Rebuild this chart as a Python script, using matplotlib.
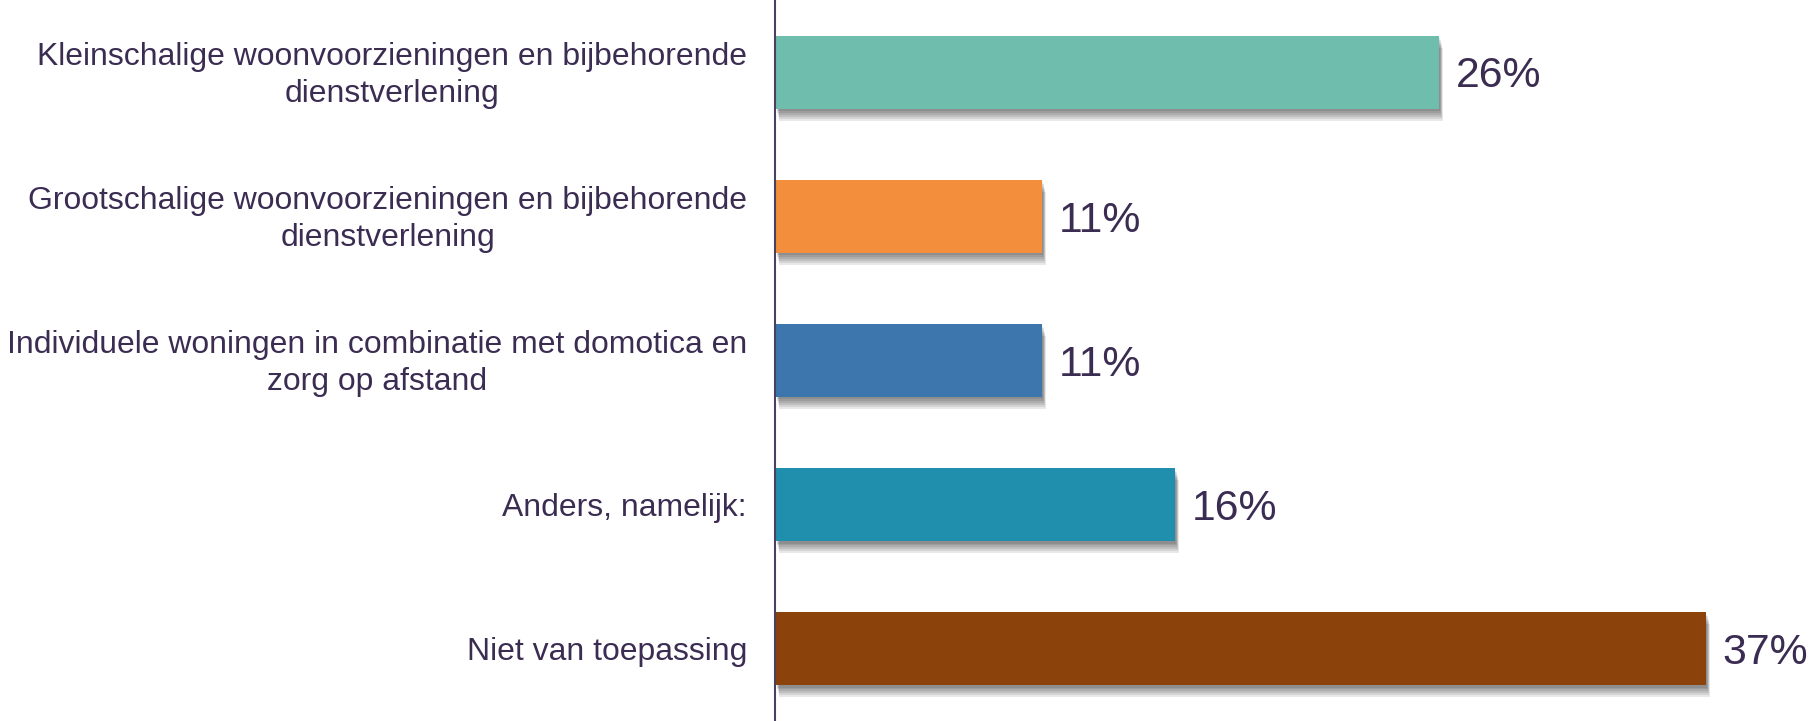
import matplotlib
matplotlib.use("Agg")
import matplotlib.pyplot as plt
import matplotlib.patheffects as pe

categories = [
    "Kleinschalige woonvoorzieningen en bijbehorende\ndienstverlening",
    "Grootschalige woonvoorzieningen en bijbehorende\ndienstverlening",
    "Individuele woningen in combinatie met domotica en\nzorg op afstand",
    "Anders, namelijk:",
    "Niet van toepassing",
]
values = [26.4, 10.6, 10.6, 15.9, 37.0]
value_labels = ["26%", "11%", "11%", "16%", "37%"]
colors = ["#6fbdad", "#f28e3c", "#3c76ad", "#1f8fad", "#8b420b"]

text_color = "#3b2c52"
plt.rcParams["font.family"] = ["Liberation Sans", "DejaVu Sans"]

W, H, DPI = 1811, 721, 100
PT = 72.0 / DPI  # points per pixel
fig = plt.figure(figsize=(W / DPI, H / DPI), dpi=DPI)
ax = fig.add_axes([775 / W, 0, 1 - 775 / W, 1])

y = list(range(len(categories)))
bars = ax.barh(y, values, height=0.505, color=colors, zorder=3)
shadow = []
for k, (dx, dy) in enumerate([(4, 12), (3.5, 10), (3, 8), (2.5, 6), (2, 4), (1.5, 2.5)]):
    shadow.append(pe.SimplePatchShadow(offset=(dx * PT, -dy * PT),
                                       shadow_rgbFace="k", alpha=0.09))
for b in bars:
    b.set_path_effects(shadow + [pe.Normal()])

ax.set_xlim(0, (W - 775) / 25.15)
ax.set_ylim(len(categories) - 0.5, -0.5)

for yi, v, lab in zip(y, values, value_labels):
    ax.annotate(lab, xy=(v, yi), xytext=(17 * PT, -15.3 * PT),
                textcoords="offset points", va="baseline", ha="left",
                fontsize=30.8, color=text_color)

for yi, cat in zip(y, categories):
    n = cat.count("\n") + 1
    off_px = 11.3 + (n - 1) * 18.5
    ax.annotate(cat, xy=(0, yi), xycoords=("axes fraction", "data"),
                xytext=(-28 * PT, -off_px * PT), textcoords="offset points",
                va="baseline", ha="right", multialignment="center",
                linespacing=1.30, fontsize=22.95, color=text_color,
                annotation_clip=False)

ax.set_yticks([])
ax.set_xticks([])

for s in ["top", "right", "bottom"]:
    ax.spines[s].set_visible(False)
ax.spines["left"].set_color("#4b3f63")
ax.spines["left"].set_linewidth(1.5)
ax.spines["left"].set_zorder(4)

fig.savefig("out.png", dpi=DPI)
